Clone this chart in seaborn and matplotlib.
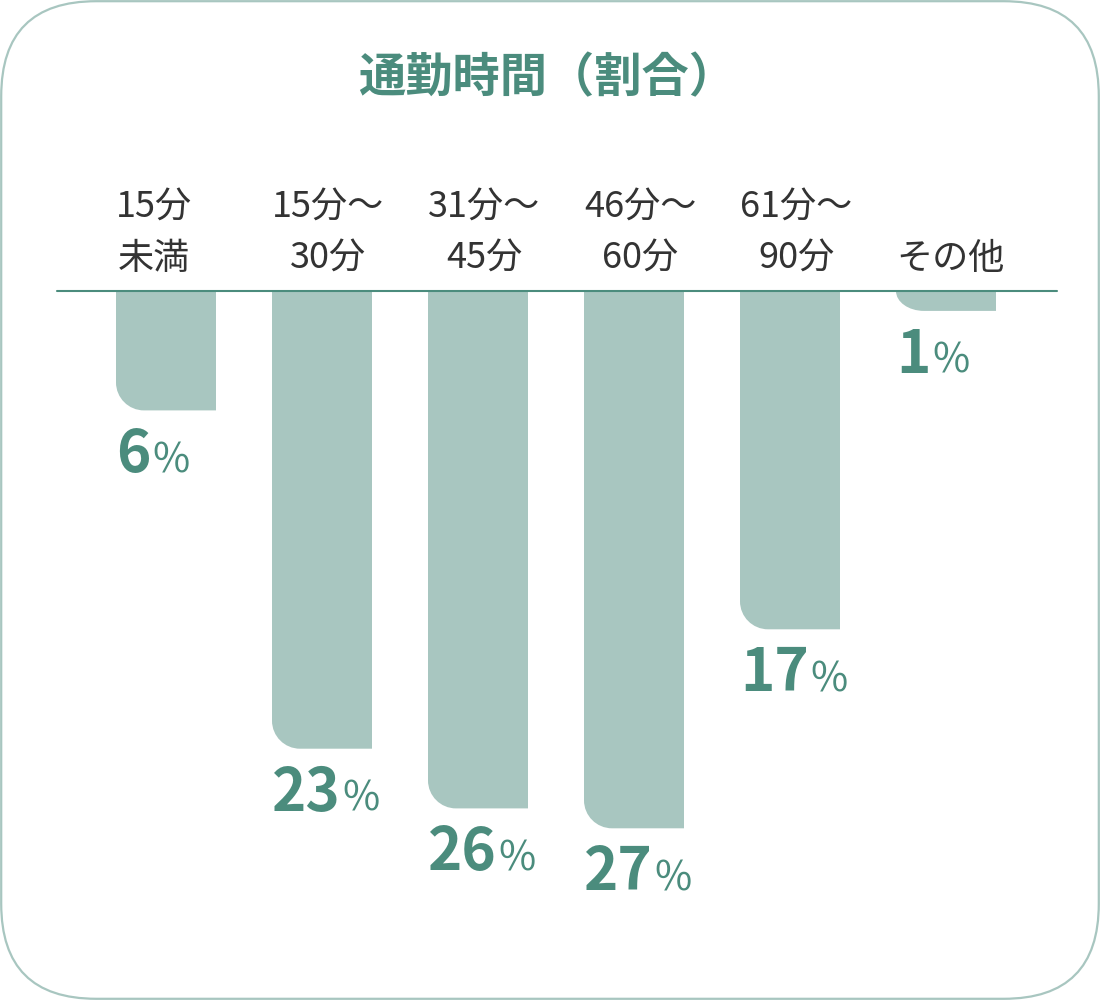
import numpy as np
import pandas as pd
import matplotlib
matplotlib.use("Agg")
import matplotlib.pyplot as plt
import seaborn as sns
from matplotlib.path import Path
from matplotlib.patches import PathPatch, FancyBboxPatch

# data
categories = ["15分\n未満", "15分〜\n30分", "31分〜\n45分", "46分〜\n60分", "61分〜\n90分", "その他"]
shares = [6, 23, 26, 27, 17, 1]
title = "通勤時間（割合）"

BAR_COLOR = "#a8c6c0"
TEAL = "#4b8c7d"
TEXT = "#333333"

sns.set_style("white")
plt.rcParams["font.family"] = ["Noto Sans CJK JP", "DejaVu Sans"]

df = pd.DataFrame({"category": categories, "share": shares})

fig = plt.figure(figsize=(11, 10), dpi=100)
# axes spans from the baseline (291px from top) down 700px, x from 57px to 1057px
ax = fig.add_axes([57 / 1100, 1 - 991 / 1000, 1000 / 1100, 0.7])

bar_w = 100 / 156
sns.barplot(data=df, x="category", y="share", color=BAR_COLOR, saturation=1,
            width=bar_w, ax=ax)

xmin = -(166 - 57) / 156
ax.set_xlim(xmin, xmin + 1000 / 156)
ax.set_ylim(700 / 19.9, 0)
ax.axis("off")

px_x = 156.0          # pixels per category unit
px_y = 19.9           # pixels per percent
r_px = 28

# swap the seaborn rectangles for bars with a rounded lower-left corner
k = 0.5523
for p in list(ax.patches):
    x0 = p.get_x()
    x1 = x0 + p.get_width()
    v = p.get_y() + p.get_height()
    rx = r_px / px_x
    ry = min(r_px / px_y, v)
    verts = [(x0, 0), (x1, 0), (x1, v), (x0 + rx, v),
             (x0 + rx - k * rx, v), (x0, v - ry + k * ry), (x0, v - ry),
             (x0, 0)]
    codes = [Path.MOVETO, Path.LINETO, Path.LINETO, Path.LINETO,
             Path.CURVE4, Path.CURVE4, Path.CURVE4, Path.CLOSEPOLY]
    ax.add_patch(PathPatch(Path(verts, codes), facecolor=BAR_COLOR,
                           edgecolor="none", clip_on=False))
    p.remove()

ax.axhline(0, color=TEAL, lw=1.5, clip_on=False, zorder=5)

fig.canvas.draw()
renderer = fig.canvas.get_renderer()
inv = ax.transData.inverted()

for i, (cat, v) in enumerate(zip(categories, shares)):
    left = i - bar_w / 2
    ax.text(left, -0.7, cat, ha="left", va="bottom", multialignment="center",
            fontsize=26, color=TEXT, linespacing=1.55, clip_on=False)
    num = ax.text(left, v + 62 / px_y, str(v), ha="left", va="baseline",
                  fontsize=42, fontweight="bold", color=TEAL, clip_on=False)
    bb = num.get_window_extent(renderer)
    xr = inv.transform((bb.x1 + 2, bb.y0))[0]
    ax.text(xr, v + 62 / px_y, "%", ha="left", va="baseline",
            fontsize=29, color=TEAL, clip_on=False)

fig.text(0.497, 1 - 78 / 1000, title, ha="center", va="center",
         fontsize=34, fontweight="bold", color=TEAL)

frame = FancyBboxPatch((0.012, 0.012), 10.976, 9.976,
                       boxstyle="round,pad=0,rounding_size=0.95",
                       transform=fig.dpi_scale_trans, fill=False,
                       edgecolor=BAR_COLOR, lw=1.6)
fig.add_artist(frame)

fig.savefig("out.png", dpi=100, facecolor="white")
